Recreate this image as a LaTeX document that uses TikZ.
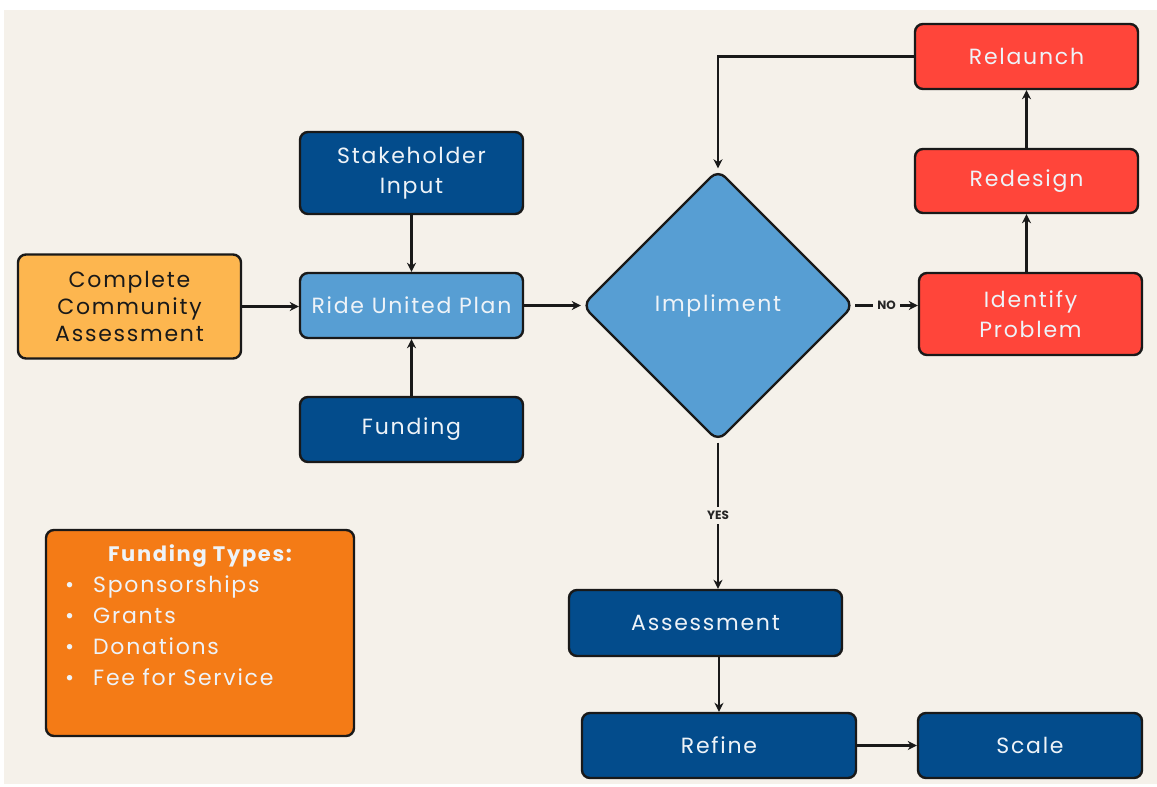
\documentclass[tikz,border=0pt]{standalone}
\usepackage{fontspec}
\setmainfont{Poppins}[LetterSpace=8]
\usetikzlibrary{shapes.geometric,arrows.meta}
\definecolor{bg}{HTML}{F5F1EA}
\definecolor{dblue}{HTML}{034C8C}
\definecolor{lblue}{HTML}{579ED3}
\definecolor{redc}{HTML}{FF453A}
\definecolor{yel}{HTML}{FDB64F}
\definecolor{org}{HTML}{F47B16}
\definecolor{lt}{HTML}{EEF3F8}
\tikzset{
  box/.style={draw=black!90, line width=2.4pt, rounded corners=8pt, align=center,
    text=lt, font=\fontsize{22}{30}\selectfont, inner sep=0pt},
  bluebox/.style={box, fill=dblue},
  redbox/.style={box, fill=redc},
  arr/.style={draw=black!90, line width=2.2pt, -{Stealth[length=9pt,width=9pt]}},
  lab/.style={fill=bg, font=\fontsize{12}{14}\selectfont\bfseries\addfontfeature{LetterSpace=0}, text=black!85, inner sep=4pt},
}
\newcommand{\bul}{\makebox[28pt][l]{\textbullet}}
\begin{document}
\begin{tikzpicture}[x=1pt,y=-1pt]
\useasboundingbox (0,0) rectangle (1157,787);
\fill[white] (0,0) rectangle (1157,787);
\fill[bg] (4,10) rectangle (1157,784);

\node[bluebox, minimum width=223pt, minimum height=82pt] (si) at (411.5,173) {Stakeholder\\Input};
\node[box, fill=lblue, minimum width=223pt, minimum height=65pt] (rup) at (411.5,305.5) {Ride United Plan};
\node[bluebox, minimum width=223pt, minimum height=65pt] (fun) at (411.5,429.5) {Funding};
\node[box, fill=yel, text=black!90, minimum width=223pt, minimum height=104pt, font=\fontsize{22}{27}\selectfont] (cca) at (129.5,306.5) {Complete\\Community\\Assessment};
\node[diamond, aspect=1, draw=black!90, line width=2.4pt, rounded corners=10pt, fill=lblue,
  minimum width=272pt, minimum height=272pt, inner sep=0pt, text=lt, font=\fontsize{22}{30}\selectfont] (imp) at (718,305.5) {Impliment};
\node[redbox, minimum width=223pt, minimum height=65pt] (rel) at (1026.5,56.5) {Relaunch};
\node[redbox, minimum width=223pt, minimum height=64pt] (red) at (1026.5,181) {Redesign};
\node[redbox, minimum width=223pt, minimum height=82pt] (idp) at (1030.5,314) {Identify\\Problem};
\node[bluebox, minimum width=273pt, minimum height=66pt] (ass) at (705.5,623) {Assessment};
\node[bluebox, minimum width=274pt, minimum height=65pt] (ref) at (719,745.5) {Refine};
\node[bluebox, minimum width=224pt, minimum height=65pt] (sca) at (1030,745.5) {Scale};

\node[box, fill=org, minimum width=308pt, minimum height=206pt] (ft) at (200,633) {};
\node[text=lt, font=\fontsize{21}{24}\selectfont\bfseries, anchor=base] (ftt) at (200,561) {Funding Types:};
\node[text=lt, font=\fontsize{22}{31}\selectfont, anchor=north west, align=left, inner sep=0pt] (ftl) at (65,576)
  {\bul Sponsorships\\\bul Grants\\\bul Donations\\\bul Fee for Service};

\draw[arr] (cca.east) -- (cca.east -| rup.west);
\draw[arr] (si.south) -- (rup.north);
\draw[arr] (fun.north) -- (rup.south);
\draw[arr] (rup.east) -- (imp.west);
\draw[arr] (imp.east) -- node[lab] {NO} (imp.east -| idp.west);
\draw[arr] (idp.north -| red.south) -- (red.south);
\draw[arr] (red.north) -- (rel.south);
\draw[arr] (rel.west) -| (imp.north);
\draw[arr] (imp.south) -- node[lab] {YES} (imp.south |- ass.north);
\draw[arr] (ass.south -| ref.north) -- (ref.north);
\draw[arr] (ref.east) -- (sca.west);
\end{tikzpicture}
\end{document}
